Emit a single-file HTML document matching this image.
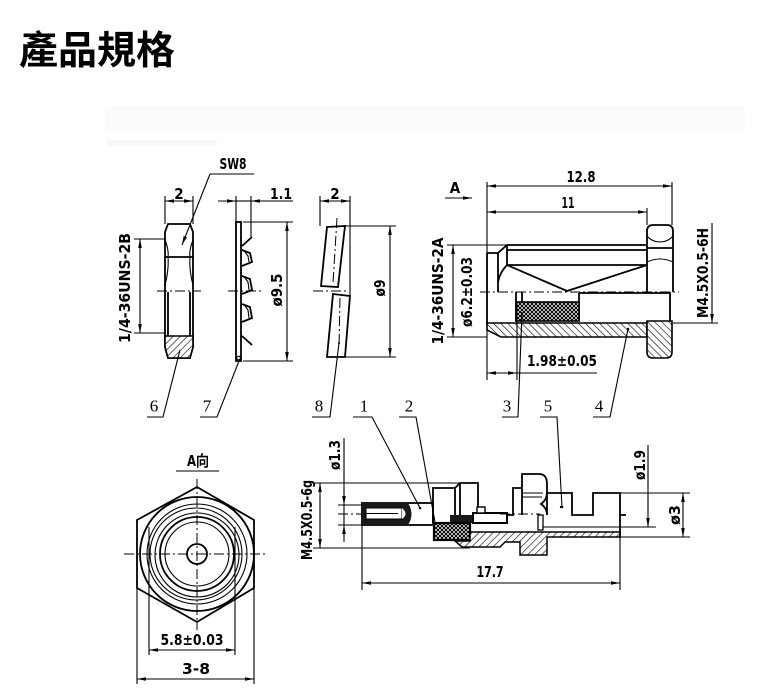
<!DOCTYPE html>
<html><head><meta charset="utf-8">
<style>
html,body{margin:0;padding:0;background:#fff;}
svg{display:block;}
.t{font-family:"DejaVu Sans Condensed","Liberation Sans Narrow","Liberation Sans",sans-serif;font-weight:bold;font-size:15px;fill:#000;}
.s{font-family:"Liberation Serif",serif;font-size:17px;fill:#000;}
.o{stroke:#000;stroke-width:1.8;fill:none;}
.d{stroke:#000;stroke-width:1.1;fill:none;}
.c{stroke:#000;stroke-width:1;fill:none;stroke-dasharray:10 3 2 3;}
</style></head><body>
<svg width="780" height="699" viewBox="0 0 780 699" xmlns="http://www.w3.org/2000/svg">
<defs>
<marker id="a" viewBox="0 0 10 4" refX="10" refY="2" markerWidth="9" markerHeight="3.6" markerUnits="userSpaceOnUse" orient="auto-start-reverse"><path d="M0,0 L10,2 L0,4 Z" fill="#000"/></marker>
<pattern id="h" width="5" height="5" patternUnits="userSpaceOnUse" patternTransform="rotate(45)"><rect width="5" height="5" fill="#fff"/><line x1="0" y1="0" x2="0" y2="5" stroke="#000" stroke-width="1.2"/></pattern>
<pattern id="h2" width="5" height="5" patternUnits="userSpaceOnUse" patternTransform="rotate(-45)"><rect width="5" height="5" fill="#fff"/><line x1="0" y1="0" x2="0" y2="5" stroke="#000" stroke-width="1.2"/></pattern>
<pattern id="k" width="4" height="4" patternUnits="userSpaceOnUse"><rect width="4" height="4" fill="#fff"/><path d="M0,0 L4,4 M4,0 L0,4" stroke="#000" stroke-width="1.1"/></pattern>
</defs>
<rect width="780" height="699" fill="#fff"/>

<!-- title -->
<text x="19" y="64" font-family="'Liberation Sans','Noto Sans CJK TC',sans-serif" font-weight="bold" font-size="39" fill="#000">產品規格</text>

<!-- faint band -->
<rect x="105" y="106" width="640" height="27" fill="#fbfbfb"/>
<rect x="107" y="140" width="110" height="6" fill="#f7f7f7"/>

<!-- ===== Part 6 nut ===== -->
<path class="o" d="M168,224 H190 L193,232 V347 L190,358 H168 L165,347 V232 Z"/>
<path d="M165,336 H193 V347 L190,358 H168 L165,347 Z" fill="url(#h)" stroke="#000" stroke-width="1.6"/>
<path class="o" d="M165,257 H193 M168,292 V336 M190,292 V336"/>
<path class="d" d="M165,240 Q169,250 168,257 Q169,270 165,285 M193,240 Q189,250 190,257 Q189,270 193,285"/>
<line class="c" x1="157" y1="291" x2="201" y2="291"/>
<path class="d" d="M165,196 V224 M193,196 V224"/>
<line class="d" x1="165" y1="201" x2="193" y2="201" marker-start="url(#a)" marker-end="url(#a)"/>
<text class="t" x="179" y="194" text-anchor="middle" dominant-baseline="central">2</text>
<text class="t" x="233" y="164" text-anchor="middle" dominant-baseline="central" textLength="27" lengthAdjust="spacingAndGlyphs">SW8</text>
<line class="d" x1="210" y1="174" x2="254" y2="174"/>
<line class="d" x1="210" y1="174" x2="182" y2="245" marker-end="url(#a)"/>
<path class="d" d="M134,239 H165 M134,333 H165"/>
<line class="d" x1="140" y1="239" x2="140" y2="333" marker-start="url(#a)" marker-end="url(#a)"/>
<text class="t" transform="translate(125,288) rotate(-90)" text-anchor="middle" dominant-baseline="central" font-size="16" textLength="110" lengthAdjust="spacingAndGlyphs">1/4-36UNS-2B</text>
<path class="d" d="M180,350 L163,417 H147"/>
<text class="s" x="154" y="406" text-anchor="middle" dominant-baseline="central">6</text>

<!-- ===== Part 7 washer ===== -->
<rect x="236" y="222" width="5" height="139" class="o" stroke-width="1.5"/>
<circle cx="238.5" cy="358" r="1.8" class="d"/>
<path class="o" stroke-width="1.4" d="M242,246 L252,237 M242,250 L250,253 L252,262 L242,266 M242,276 L250,279 L252,290 L242,294 M242,304 L250,307 L252,318 L242,322 M242,336 L252,345"/>
<path class="d" d="M245,252 L248,256 L249,262 M245,278 L248,282 L249,290 M245,306 L248,310 L249,318"/>
<line class="c" x1="228" y1="291" x2="262" y2="291"/>
<path class="d" d="M236,196 V222 M251,196 V238"/>
<line class="d" x1="218" y1="201" x2="236" y2="201" marker-end="url(#a)"/>
<line class="d" x1="236" y1="201" x2="251" y2="201"/>
<line class="d" x1="293" y1="201" x2="251" y2="201" marker-end="url(#a)"/>
<text class="t" x="281" y="194" text-anchor="middle" dominant-baseline="central" textLength="22" lengthAdjust="spacingAndGlyphs">1.1</text>
<path class="d" d="M243,222 H293 M243,361 H293"/>
<line class="d" x1="287" y1="222" x2="287" y2="361" marker-start="url(#a)" marker-end="url(#a)"/>
<text class="t" transform="translate(277,290) rotate(-90)" text-anchor="middle" dominant-baseline="central" font-size="16" textLength="33" lengthAdjust="spacingAndGlyphs">ø9.5</text>
<path class="d" d="M239,361 L217,417 H200"/>
<text class="s" x="207" y="406" text-anchor="middle" dominant-baseline="central">7</text>

<!-- ===== Part 8 ===== -->
<path class="o" stroke-width="1.5" d="M327,227 L345,226 L338,287 L321,286 Z"/>
<path class="o" stroke-width="1.5" d="M333,294 L350,296 L345,357 L327,357 Z"/>
<line class="c" x1="337" y1="218" x2="333" y2="283"/>
<line class="c" x1="340" y1="298" x2="339" y2="347"/>
<circle cx="339" cy="343" r="1" fill="#000"/>
<line class="c" x1="313" y1="291" x2="347" y2="291"/>
<path class="d" d="M320,196 V226 M350,196 V296"/>
<line class="d" x1="320" y1="201" x2="350" y2="201" marker-start="url(#a)" marker-end="url(#a)"/>
<text class="t" x="335" y="194" text-anchor="middle" dominant-baseline="central">2</text>
<path class="d" d="M345,226 H396 M345,357 H396"/>
<line class="d" x1="390" y1="226" x2="390" y2="357" marker-start="url(#a)" marker-end="url(#a)"/>
<text class="t" transform="translate(380,288) rotate(-90)" text-anchor="middle" dominant-baseline="central" font-size="16" textLength="17" lengthAdjust="spacingAndGlyphs">ø9</text>
<path class="d" d="M339,343 L330,417 H312"/>
<text class="s" x="319" y="406" text-anchor="middle" dominant-baseline="central">8</text>

<!-- ===== Top-right assembly ===== -->
<text class="t" x="455" y="188" text-anchor="middle" dominant-baseline="central">A</text>
<line class="d" x1="445" y1="198" x2="472" y2="198" marker-end="url(#a)"/>
<path class="d" d="M487,182 V380 M672,182 V225 M647,208 V225"/>
<line class="d" x1="487" y1="186" x2="672" y2="186" marker-start="url(#a)" marker-end="url(#a)"/>
<text class="t" x="581" y="177" text-anchor="middle" dominant-baseline="central" textLength="29" lengthAdjust="spacingAndGlyphs">12.8</text>
<line class="d" x1="487" y1="212" x2="647" y2="212" marker-start="url(#a)" marker-end="url(#a)"/>
<text class="t" x="568" y="203" text-anchor="middle" dominant-baseline="central" textLength="13" lengthAdjust="spacingAndGlyphs">11</text>
<!-- body -->
<path class="o" d="M487,253 V325 M487,253 H498 V292 M498,253 L507,245 H647 M507,250 H647 M507,245 V265 H647 M507,265 L567,291 L647,265 M507,265 Q500,272 498,282"/>
<path class="o" d="M647,292 V231 Q647,225 653,225 H667 Q673,225 673,231 V292 M647,248 H673"/>
<path class="d" d="M647,236 Q652,242 660,242 Q668,242 673,236 M647,262 Q660,256 673,262"/>
<line class="c" x1="480" y1="292" x2="679" y2="292"/>
<path class="o" d="M670,292 V322 M579,293 H670 M579,293 V321 M516,292 V321 M522,292 V302"/>
<rect x="516" y="302" width="63" height="19" fill="url(#k)" stroke="#000" stroke-width="1.6"/>
<path d="M487,323 H647 V337 H501 L487,330 Z" fill="url(#h2)" stroke="#000" stroke-width="1.6"/>
<path d="M647,321 H672 V352 Q672,358 666,358 H653 Q647,358 647,352 Z" fill="url(#h2)" stroke="#000" stroke-width="1.6"/>
<!-- M4.5X0.5-6H -->
<path class="d" d="M673,323 H718"/>
<line class="d" x1="712" y1="223" x2="712" y2="323" marker-end="url(#a)"/>
<text class="t" transform="translate(703,273) rotate(-90)" text-anchor="middle" dominant-baseline="central" font-size="16" textLength="90" lengthAdjust="spacingAndGlyphs">M4.5X0.5-6H</text>
<!-- left dims -->
<path class="d" d="M447,245 H507 M447,337 H487"/>
<line class="d" x1="453" y1="245" x2="453" y2="337" marker-start="url(#a)" marker-end="url(#a)"/>
<text class="t" transform="translate(438,291) rotate(-90)" text-anchor="middle" dominant-baseline="central" font-size="16" textLength="107" lengthAdjust="spacingAndGlyphs">1/4-36UNS-2A</text>
<text class="t" transform="translate(467,292) rotate(-90)" text-anchor="middle" dominant-baseline="central" font-size="16" textLength="70" lengthAdjust="spacingAndGlyphs">ø6.2±0.03</text>
<!-- 1.98 -->
<path class="d" d="M517,302 V380"/>
<line class="d" x1="487" y1="373" x2="517" y2="373" marker-start="url(#a)" marker-end="url(#a)"/>
<line class="d" x1="517" y1="373" x2="597" y2="373"/>
<text class="t" x="562" y="361" text-anchor="middle" dominant-baseline="central" font-size="16" textLength="70" lengthAdjust="spacingAndGlyphs">1.98±0.05</text>
<!-- leaders 3, 4 -->
<path class="d" d="M522,312 L518,417 H502"/>
<text class="s" x="507" y="406" text-anchor="middle" dominant-baseline="central">3</text>
<path class="d" d="M628,329 L610,417 H593"/>
<circle cx="628" cy="329" r="1.3" fill="#000"/>
<text class="s" x="599" y="406" text-anchor="middle" dominant-baseline="central">4</text>
<!-- leader 5 -->
<path class="d" d="M540,417 H557 L562,507"/>
<circle cx="562" cy="507" r="1.3" fill="#000"/>
<text class="s" x="548" y="406" text-anchor="middle" dominant-baseline="central">5</text>
<!-- leaders 1, 2 -->
<path class="d" d="M353,417 H372 L420,508"/>
<circle cx="420" cy="508" r="1.3" fill="#000"/>
<text class="s" x="364" y="406" text-anchor="middle" dominant-baseline="central">1</text>
<path class="d" d="M399,417 H416 L435,522"/>
<text class="s" x="409" y="406" text-anchor="middle" dominant-baseline="central">2</text>

<!-- ===== Lower assembly ===== -->
<path class="d" d="M313,483 H478 M313,548 H470"/>
<line class="d" x1="320" y1="483" x2="320" y2="548" marker-start="url(#a)" marker-end="url(#a)"/>
<text class="t" transform="translate(307,520) rotate(-90)" text-anchor="middle" dominant-baseline="central" font-size="16" textLength="80" lengthAdjust="spacingAndGlyphs">M4.5X0.5-6g</text>
<path class="d" d="M338,505 H362 M338,525 H362"/>
<line class="d" x1="344" y1="438" x2="344" y2="505" marker-end="url(#a)"/>
<line class="d" x1="344" y1="505" x2="344" y2="525"/>
<line class="d" x1="344" y1="542" x2="344" y2="525" marker-end="url(#a)"/>
<text class="t" transform="translate(335,455) rotate(-90)" text-anchor="middle" dominant-baseline="central" font-size="16" textLength="30" lengthAdjust="spacingAndGlyphs">ø1.3</text>
<!-- pin -->
<rect x="362" y="503" width="71" height="22" class="o" stroke-width="1.5" fill="#fff"/>
<path d="M362,503 H408 Q415,514 408,525 H362 Z" fill="#1a1a1a"/>
<rect x="366" y="508" width="36" height="11" fill="#fff" stroke="#000" stroke-width="1"/>
<path class="d" d="M366,513.5 H398"/>
<path d="M402,508 Q409,514 402,519 Z" fill="#fff"/>
<!-- part 2 block -->
<path class="o" stroke-width="1.5" d="M433,523 V488 H455 L460,483 H478 V515 M455,488 V523 M460,483 V515"/>
<rect x="450" y="515" width="22" height="8" fill="#1a1a1a"/>
<rect x="434" y="523" width="36" height="17" fill="url(#k)" stroke="#000" stroke-width="2.2"/>
<path d="M470,532 H620 V537 H547 V555 H520 V542 H505 L500,547 H462 L455,541 H470 Z" fill="url(#h)" stroke="#000" stroke-width="1.5"/>
<rect x="473" y="513" width="34" height="10" fill="#fff" stroke="#000" stroke-width="2"/>
<rect x="477" y="507" width="8" height="6" fill="#fff" stroke="#000" stroke-width="1.4"/>
<path class="o" stroke-width="1.4" d="M507,515 H513 V488 H522"/>
<rect x="538" y="515" width="5" height="15" fill="#fff" stroke="#000" stroke-width="1.3"/>
<path class="o" d="M522,515 V474 H539 Q547,474 547,484 V492 Q547,500 541,504 Q547,508 547,515"/>
<path class="d" d="M522,493 H543 M522,497 H542"/>
<path class="o" d="M547,515 V493 H572 V515 H593 V493 H620 V515 H626 M620,515 V537"/>
<circle cx="561" cy="507" r="1.2" fill="#000"/>
<path class="d" d="M543,527 H620"/>
<line class="c" x1="338" y1="514" x2="362" y2="514"/>
<line class="c" x1="500" y1="514" x2="540" y2="514"/>
<!-- ø3 -->
<path class="d" d="M620,493 H690 M620,537 H690"/>
<line class="d" x1="683" y1="493" x2="683" y2="537" marker-start="url(#a)" marker-end="url(#a)"/>
<text class="t" transform="translate(675,515) rotate(-90)" text-anchor="middle" dominant-baseline="central" font-size="16" textLength="20" lengthAdjust="spacingAndGlyphs">ø3</text>
<!-- ø1.9 -->
<path class="d" d="M620,527 H656"/>
<line class="d" x1="648" y1="445" x2="648" y2="527" marker-end="url(#a)"/>
<text class="t" transform="translate(640,465) rotate(-90)" text-anchor="middle" dominant-baseline="central" font-size="16" textLength="30" lengthAdjust="spacingAndGlyphs">ø1.9</text>
<!-- 17.7 -->
<path class="d" d="M362,525 V590 M620,537 V590"/>
<line class="d" x1="362" y1="583" x2="620" y2="583" marker-start="url(#a)" marker-end="url(#a)"/>
<text class="t" x="490" y="572" text-anchor="middle" dominant-baseline="central" font-size="16" textLength="27" lengthAdjust="spacingAndGlyphs">17.7</text>

<!-- ===== A view ===== -->
<text class="t" x="198" y="461" text-anchor="middle" dominant-baseline="central" font-family="'DejaVu Sans Condensed','Noto Sans CJK SC',sans-serif" textLength="22" lengthAdjust="spacingAndGlyphs">A向</text>
<line class="d" x1="176" y1="471" x2="219" y2="471"/>
<polygon class="o" points="197,487 254,520 254,588 197,622 137,588 137,520"/>
<circle cx="197" cy="554" r="57" class="o" stroke-width="1.4"/>
<circle cx="197" cy="554" r="50" class="d" stroke-width="1.3"/>
<circle cx="196" cy="554" r="46" class="d" stroke-width="1.3"/>
<circle cx="197" cy="555" r="42" class="d" stroke-width="1.3"/>
<circle cx="197" cy="554" r="37" class="o" stroke-width="1.4"/>
<circle cx="197" cy="554" r="32" class="d" stroke-width="1.2"/>
<circle cx="197" cy="554" r="10" class="o" stroke-width="1.5"/>
<line class="c" x1="124" y1="554" x2="266" y2="554"/>
<line class="c" x1="197" y1="479" x2="197" y2="630"/>
<path class="d" d="M149,527 V655 M235,527 V655"/>
<line class="d" x1="149" y1="650" x2="235" y2="650" marker-start="url(#a)" marker-end="url(#a)"/>
<text class="t" x="192" y="640" text-anchor="middle" dominant-baseline="central" font-size="16" textLength="63" lengthAdjust="spacingAndGlyphs">5.8±0.03</text>
<path class="d" d="M137,588 V684 M254,588 V684"/>
<line class="d" x1="137" y1="679" x2="254" y2="679" marker-start="url(#a)" marker-end="url(#a)"/>
<text class="t" x="196" y="669" text-anchor="middle" dominant-baseline="central" font-size="16" textLength="28" lengthAdjust="spacingAndGlyphs">3-8</text>
</svg>
</body></html>
